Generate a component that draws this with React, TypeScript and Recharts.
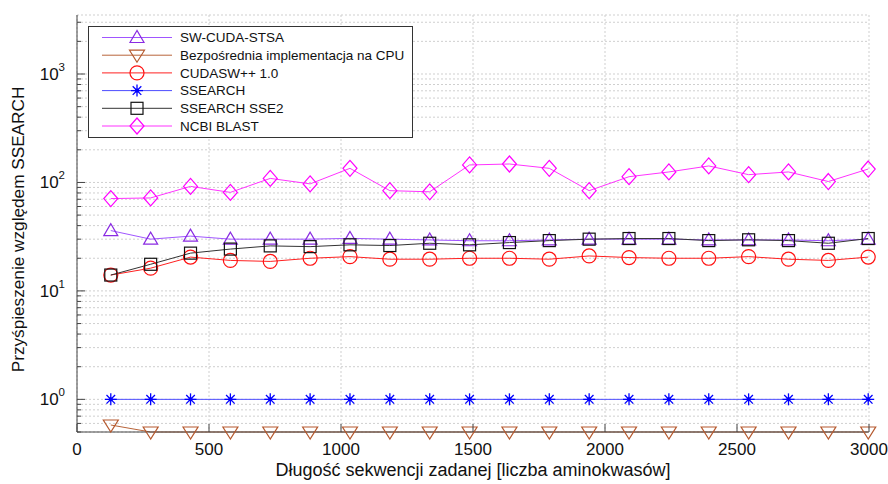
import React from "react"
import {
  LineChart,
  Line,
  XAxis,
  YAxis,
  CartesianGrid,
  Legend,
  Label,
} from "recharts"

const lengths = [128, 279, 430, 581, 732, 883, 1034, 1185, 1336, 1487, 1638, 1789, 1940, 2091, 2242, 2393, 2544, 2695, 2846, 2997]

const swCudaStsa = [36, 30, 32, 30, 30, 30, 30.5, 30, 29.5, 29, 29, 29.5, 30, 30, 30, 29.5, 29.5, 29.5, 29, 30]
const cpuNaive = [0.58, 0.5, 0.5, 0.5, 0.5, 0.5, 0.5, 0.5, 0.5, 0.5, 0.5, 0.5, 0.5, 0.5, 0.5, 0.5, 0.5, 0.5, 0.5, 0.5]
const cudasw = [14, 16.2, 20.5, 19.1, 18.7, 20, 20.7, 19.6, 19.6, 20, 20, 19.6, 21, 20.3, 20, 20, 20.7, 19.6, 19.1, 20.5]
const ssearch = [1, 1, 1, 1, 1, 1, 1, 1, 1, 1, 1, 1, 1, 1, 1, 1, 1, 1, 1, 1]
const ssearchSse2 = [14, 17.6, 22.3, 24.3, 26, 25.6, 26.6, 26.2, 27.5, 26.6, 27.9, 29.1, 30, 30.4, 30.4, 29.1, 29.6, 29.1, 27.5, 30.4]
const ncbiBlast = [71, 72, 92, 81, 109, 97, 135, 84, 82, 145, 148, 135, 84, 113, 125, 142, 118, 125, 102, 133]

const xTicks = [0, 500, 1000, 1500, 2000, 2500, 3000]
const yTicks = [
  0.5, 0.6, 0.7, 0.8, 0.9,
  1, 2, 3, 4, 5, 6, 7, 8, 9,
  10, 20, 30, 40, 50, 60, 70, 80, 90,
  100, 200, 300, 400, 500, 600, 700, 800, 900,
  1000, 2000, 3000,
]
const yMajor = [1, 10, 100, 1000]
const yMajorExp = ["0", "1", "2", "3"]

type Shape = "triUp" | "triDown" | "circle" | "star" | "square" | "diamond"

const series: { key: string; name: string; line: string; mark: string; shape: Shape; values: number[] }[] = [
  { key: "stsa", name: "SW-CUDA-STSA", line: "#a055ff", mark: "#8a2be2", shape: "triUp", values: swCudaStsa },
  { key: "cpu", name: "Bezpośrednia implementacja na CPU", line: "#b8643a", mark: "#b5592e", shape: "triDown", values: cpuNaive },
  { key: "cudasw", name: "CUDASW++ 1.0", line: "#ff2020", mark: "#ff1010", shape: "circle", values: cudasw },
  { key: "ssearch", name: "SSEARCH", line: "#4d4dff", mark: "#0000ff", shape: "star", values: ssearch },
  { key: "sse2", name: "SSEARCH SSE2", line: "#333333", mark: "#111111", shape: "square", values: ssearchSse2 },
  { key: "blast", name: "NCBI BLAST", line: "#ff33ff", mark: "#ff00ff", shape: "diamond", values: ncbiBlast },
]

const data = lengths.map((len, i) => {
  const row: Record<string, number> = { len }
  series.forEach((s) => (row[s.key] = s.values[i]))
  return row
})

const AXIS = "#444"
const FONT = "'Liberation Sans', Arial, sans-serif"

function Marker({ shape, cx, cy, color }: { shape: Shape; cx: number; cy: number; color: string }) {
  const common = { fill: "none", stroke: color, strokeWidth: 1.2 }
  switch (shape) {
    case "triUp":
      return <polygon points={`${cx},${cy - 7} ${cx - 7},${cy + 5} ${cx + 7},${cy + 5}`} {...common} />
    case "triDown":
      return <polygon points={`${cx},${cy + 7} ${cx - 7.5},${cy - 5} ${cx + 7.5},${cy - 5}`} {...common} />
    case "circle":
      return <circle cx={cx} cy={cy} r={7} {...common} />
    case "square":
      return <rect x={cx - 6} y={cy - 6} width={12} height={12} {...common} />
    case "diamond":
      return <polygon points={`${cx},${cy - 8} ${cx + 7},${cy} ${cx},${cy + 8} ${cx - 7},${cy}`} {...common} />
    case "star":
      return (
        <g stroke={color} strokeWidth={1.3}>
          <line x1={cx - 6} x2={cx + 6} y1={cy} y2={cy} />
          <line x1={cx} x2={cx} y1={cy - 6} y2={cy + 6} />
          <line x1={cx - 4.3} x2={cx + 4.3} y1={cy - 4.3} y2={cy + 4.3} />
          <line x1={cx - 4.3} x2={cx + 4.3} y1={cy + 4.3} y2={cy - 4.3} />
          <circle cx={cx} cy={cy} r={1.5} fill={color} />
        </g>
      )
  }
  return null
}

const dotFor = (shape: Shape, color: string) => (props: any) => {
  const { cx, cy, index } = props
  return <Marker key={`${shape}-${index}`} shape={shape} cx={cx} cy={cy} color={color} />
}

const LeftTick = (props: any) => {
  const { x, y, payload } = props
  const idx = yMajor.indexOf(payload.value)
  const major = idx >= 0
  return (
    <g>
      <line x1={x} x2={x + (major ? 8 : 4)} y1={y} y2={y} stroke={AXIS} />
      {major && (
        <text x={x - 12} y={y + 6} textAnchor="end" fontSize={17} fill="#111" fontFamily={FONT}>
          10
          <tspan dy={-9} fontSize={11.5}>{yMajorExp[idx]}</tspan>
        </text>
      )}
    </g>
  )
}

const RightTick = (props: any) => {
  const { x, y, payload } = props
  const major = yMajor.includes(payload.value)
  return <line x1={x} x2={x - (major ? 8 : 4)} y1={y} y2={y} stroke={AXIS} />
}

const BottomTick = (props: any) => {
  const { x, y, payload } = props
  return (
    <g>
      <line x1={x} x2={x} y1={y} y2={y - 8} stroke={AXIS} />
      <text x={x} y={y + 23} textAnchor="middle" fontSize={17} fill="#111" fontFamily={FONT}>
        {payload.value}
      </text>
    </g>
  )
}

const TopTick = (props: any) => {
  const { x, y } = props
  return <line x1={x} x2={x} y1={y} y2={y + 8} stroke={AXIS} />
}

const LegendBox = () => (
  <svg width={326} height={113} style={{ display: "block" }}>
    <rect x={0.5} y={0.5} width={324} height={111} fill="#fff" stroke="#333" />
    {series.map((s, i) => {
      const cy = 11.5 + i * 17.7
      return (
        <g key={s.key}>
          <line x1={14} x2={84} y1={cy} y2={cy} stroke={s.line} />
          <Marker shape={s.shape} cx={49} cy={cy} color={s.mark} />
          <text x={92} y={cy + 4.8} fontSize={13.5} fill="#111" fontFamily={FONT}>
            {s.name}
          </text>
        </g>
      )
    })}
  </svg>
)

export default function App() {
  return (
    <div style={{ position: "absolute", left: 0, top: 0, width: 888, height: 484, background: "#fff" }}>
      <LineChart width={888} height={484} data={data} margin={{ top: 15, right: 19, bottom: 0, left: 0 }}>
        <CartesianGrid stroke="#cfcfcf" strokeDasharray="2 2" />
        <XAxis
          dataKey="len"
          type="number"
          domain={[0, 3000]}
          ticks={xTicks}
          interval={0}
          height={52}
          tickSize={0}
          tickMargin={0}
          tickLine={false}
          tick={<BottomTick />}
          stroke={AXIS}
        >
          <Label
            content={({ viewBox }: any) => (
              <text
                x={viewBox.x + viewBox.width / 2}
                y={viewBox.y + 44}
                textAnchor="middle"
                fontSize={18}
                fill="#111"
                fontFamily={FONT}
              >
                Długość sekwencji zadanej [liczba aminokwasów]
              </text>
            )}
          />
        </XAxis>
        <XAxis
          xAxisId="top"
          orientation="top"
          dataKey="len"
          type="number"
          domain={[0, 3000]}
          ticks={xTicks}
          interval={0}
          height={0}
          tickSize={0}
          tickMargin={0}
          tickLine={false}
          tick={<TopTick />}
          stroke={AXIS}
        />
        <YAxis
          scale="log"
          type="number"
          domain={[0.5, 3500]}
          ticks={yTicks}
          interval={0}
          width={77}
          tickSize={0}
          tickMargin={0}
          tickLine={false}
          tick={<LeftTick />}
          stroke={AXIS}
        >
          <Label
            content={({ viewBox }: any) => {
              const cx = 24
              const cy = viewBox.y + viewBox.height / 2 + 6
              return (
                <text
                  x={cx}
                  y={cy}
                  transform={`rotate(-90, ${cx}, ${cy})`}
                  textAnchor="middle"
                  fontSize={17.2}
                  fill="#111"
                  fontFamily={FONT}
                >
                  Przyśpieszenie względem SSEARCH
                </text>
              )
            }}
          />
        </YAxis>
        <YAxis
          yAxisId="right"
          orientation="right"
          scale="log"
          type="number"
          domain={[0.5, 3500]}
          allowDataOverflow
          ticks={yTicks}
          interval={0}
          width={0}
          tickSize={0}
          tickMargin={0}
          tickLine={false}
          tick={<RightTick />}
          stroke={AXIS}
        />
        <Legend
          layout="horizontal"
          verticalAlign="middle"
          align="center"
          wrapperStyle={{ left: 88, top: 26, width: 326, height: 113 }}
          content={() => <LegendBox />}
        />
        {series.map((s) => (
          <Line
            key={s.key}
            dataKey={s.key}
            name={s.name}
            type="linear"
            stroke={s.line}
            strokeWidth={1}
            dot={dotFor(s.shape, s.mark)}
            activeDot={false}
            isAnimationActive={false}
          />
        ))}
      </LineChart>
    </div>
  )
}
